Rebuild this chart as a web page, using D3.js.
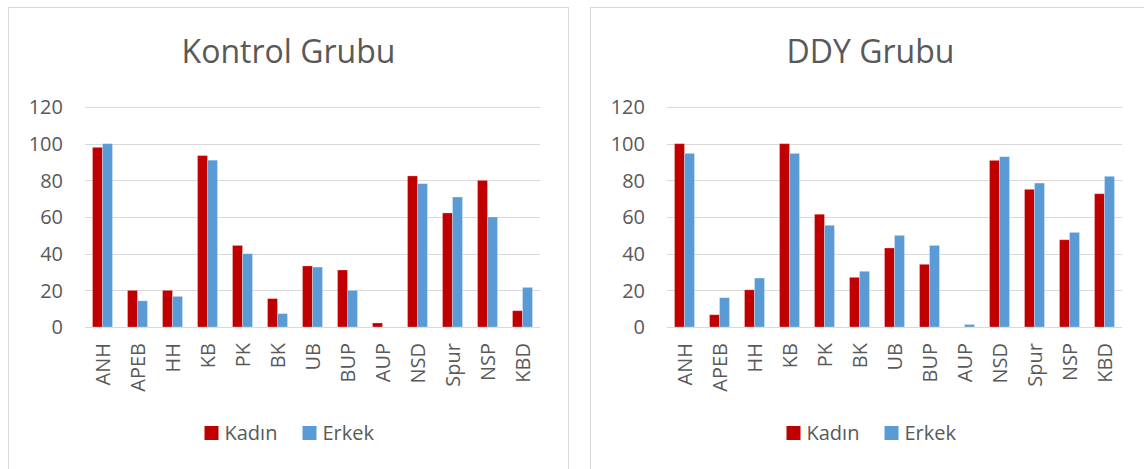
<!DOCTYPE html>
<html>
<head>
<meta charset="utf-8">
<script src="https://cdn.jsdelivr.net/npm/d3@7"></script>
<style>
  body { margin: 0; background: #fff; }
  svg text { font-family: "Open Sans", "Noto Sans", sans-serif; fill: #595959; }
</style>
</head>
<body>
<div id="chart"></div>
<script>
// categories on the x axis (same for both panels)
var categories = ["ANH", "APEB", "HH", "KB", "PK", "BK", "UB", "BUP", "AUP", "NSD", "Spur", "NSP", "KBD"];
var seriesNames = ["Kadın", "Erkek"];
var seriesColors = ["#C00000", "#5B9BD5"];
var yTicks = [0, 20, 40, 60, 80, 100, 120];

// Kontrol Grubu values
var kontrolKadin = [98, 20, 20, 93.5, 44.5, 15.5, 33.3, 31.1, 2.2, 82.4, 62.2, 80, 8.9];
var kontrolErkek = [100, 14.3, 16.7, 91, 40, 7.3, 32.7, 20, 0, 78.2, 70.9, 60, 21.6];

// DDY Grubu values
var ddyKadin = [100, 6.7, 20.3, 100, 61.5, 27.1, 43.1, 34.2, 0, 90.9, 75.1, 47.6, 72.7];
var ddyErkek = [94.7, 16, 26.7, 94.7, 55.5, 30.4, 50, 44.5, 1.4, 92.9, 78.5, 51.6, 82.2];

var svg = d3.select("#chart").append("svg")
    .attr("width", 1144).attr("height", 469);

// one chart panel: border, title, grid, bars, labels, legend
function drawPanel(left, title, kadin, erkek) {
    var panelW = 560;
    var g = svg.append("g").attr("transform", `translate(${left}, 0)`);

    // panel frame (runs off the bottom of the picture)
    g.append("rect")
        .attr("x", 0.5).attr("y", 7.5)
        .attr("width", panelW).attr("height", 480)
        .attr("fill", "none").attr("stroke", "#D9D9D9").attr("stroke-width", 1);

    g.append("text")
        .attr("x", panelW / 2 + 0.5).attr("y", 63)
        .attr("text-anchor", "middle")
        .attr("font-size", 32)
        .text(title);

    var x = d3.scaleBand().domain(categories).range([77, 532]).paddingInner(0).paddingOuter(0);
    var y = d3.scaleLinear().domain([0, 120]).range([327, 107]);
    var barW = x.bandwidth() / 3.5;

    // gridlines
    g.append("g").selectAll("line")
        .data(yTicks).enter().append("line")
        .attr("x1", 77).attr("x2", 532)
        .attr("y1", d => Math.round(y(d)) + 0.5)
        .attr("y2", d => Math.round(y(d)) + 0.5)
        .attr("stroke", "#D9D9D9").attr("stroke-width", 1.2);

    // y tick labels
    g.append("g").selectAll("text")
        .data(yTicks).enter().append("text")
        .attr("x", 55).attr("y", d => y(d))
        .attr("dy", "0.36em")
        .attr("text-anchor", "end")
        .attr("font-size", 20)
        .text(d => d);

    // bars
    var rows = categories.map((c, i) => ({cat: c, vals: [kadin[i], erkek[i]]}));
    var grp = g.append("g").selectAll("g")
        .data(rows).enter().append("g")
        .attr("transform", d => `translate(${x(d.cat) + x.bandwidth() / 2 - barW}, 0)`);
    grp.selectAll("rect")
        .data(d => d.vals.filter(v => v > 0).length ? d.vals.map((v, k) => ({v: v, k: k})) : [])
        .enter().append("rect")
        .filter(d => d.v > 0)
        .attr("x", d => d.k * barW)
        .attr("y", d => y(d.v))
        .attr("width", barW)
        .attr("height", d => y(0) - y(d.v))
        .attr("fill", d => seriesColors[d.k])
        .attr("stroke", "rgba(255,255,255,0.35)")
        .attr("stroke-width", 0.8);

    // rotated category labels
    g.append("g").selectAll("text")
        .data(categories).enter().append("text")
        .attr("transform", d => `translate(${x(d) + x.bandwidth() / 2}, 343) rotate(-90)`)
        .attr("dy", "0.36em")
        .attr("text-anchor", "end")
        .attr("font-size", 20)
        .text(d => d);

    // legend
    var leg = g.append("g").attr("transform", "translate(196.5, 0)");
    var legX = [0, 98];
    seriesNames.forEach(function(name, k) {
        leg.append("rect")
            .attr("x", legX[k]).attr("y", 426)
            .attr("width", 14).attr("height", 14)
            .attr("fill", seriesColors[k]);
        leg.append("text")
            .attr("x", legX[k] + 20).attr("y", 440)
            .attr("font-size", 20)
            .text(name);
    });
}

drawPanel(8, "Kontrol Grubu", kontrolKadin, kontrolErkek);
drawPanel(590, "DDY Grubu", ddyKadin, ddyErkek);
</script>
</body>
</html>
